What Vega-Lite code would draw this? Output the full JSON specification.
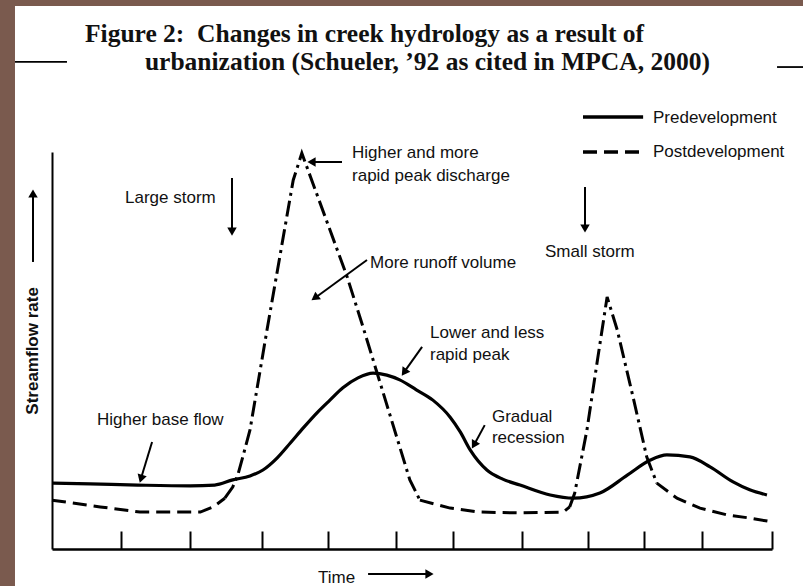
{
  "$schema": "https://vega.github.io/schema/vega-lite/v6.json",
  "width": 720,
  "height": 397,
  "autosize": {"type": "none"},
  "padding": {"left": 52, "top": 152, "right": 31, "bottom": 37},
  "background": "white",
  "config": {"view": {"stroke": null}, "font": "Liberation Sans"},
  "datasets": {
    "frame": [
      {"t": -10, "t2": -5.14, "f": -12, "f2": 150},
      {"t": -10, "t2": 110, "f": 136.8, "f2": 150}
    ],
    "hrules": [
      {"t": -5.14, "t2": 2.08, "f": 122.7, "f2": 122.7},
      {"t": 100.7, "t2": 104.5, "f": 121.4, "f2": 121.4}
    ],
    "pre": [
      {"t": 0, "f": 16.6}, {"t": 5.3, "f": 16.4}, {"t": 11.9, "f": 16.1}, {"t": 19.2, "f": 15.9},
      {"t": 22.6, "f": 16.1}, {"t": 25.1, "f": 17.4}, {"t": 27.5, "f": 18.4}, {"t": 29.3, "f": 19.9},
      {"t": 31.25, "f": 22.9}, {"t": 33.1, "f": 26.7}, {"t": 34.9, "f": 30.5}, {"t": 36.8, "f": 34.3},
      {"t": 38.6, "f": 37.5}, {"t": 40.4, "f": 40.6}, {"t": 42.5, "f": 43.1}, {"t": 44.6, "f": 44.3},
      {"t": 46.5, "f": 43.8}, {"t": 48.3, "f": 42.6}, {"t": 50.6, "f": 40.1}, {"t": 52.9, "f": 37.5},
      {"t": 55.3, "f": 33.2}, {"t": 56.7, "f": 29.5}, {"t": 58.1, "f": 24.9}, {"t": 60.4, "f": 19.9},
      {"t": 62.6, "f": 17.6}, {"t": 65.0, "f": 16.1}, {"t": 69.2, "f": 13.6}, {"t": 72.4, "f": 12.8},
      {"t": 76.1, "f": 14.1}, {"t": 79.9, "f": 18.6}, {"t": 83.1, "f": 22.4}, {"t": 85.4, "f": 23.7},
      {"t": 88.6, "f": 23.2}, {"t": 91.4, "f": 20.7}, {"t": 94.6, "f": 16.9}, {"t": 96.9, "f": 14.9},
      {"t": 99.3, "f": 13.6}
    ],
    "post": [
      {"seg": "a", "part": "base", "t": 0, "f": 12.3}, {"seg": "a", "part": "base", "t": 6.7, "f": 10.6},
      {"seg": "a", "part": "base", "t": 12.2, "f": 9.3}, {"seg": "a", "part": "base", "t": 20.6, "f": 9.3},
      {"seg": "a", "part": "base", "t": 22.4, "f": 10.6}, {"seg": "a", "part": "base", "t": 24.0, "f": 12.8},
      {"seg": "b", "part": "peak", "t": 24.0, "f": 12.8}, {"seg": "b", "part": "peak", "t": 25.1, "f": 15.6},
      {"seg": "b", "part": "peak", "t": 25.8, "f": 18.6}, {"seg": "b", "part": "peak", "t": 26.5, "f": 23.2},
      {"seg": "b", "part": "peak", "t": 27.5, "f": 30.0}, {"seg": "b", "part": "peak", "t": 29.86, "f": 55.16},
      {"seg": "b", "part": "peak", "t": 33.5, "f": 92.9}, {"seg": "b", "part": "peak", "t": 34.7, "f": 99.7},
      {"seg": "b", "part": "peak", "t": 41.0, "f": 68.5}, {"seg": "b", "part": "peak", "t": 43.2, "f": 55.9},
      {"seg": "b", "part": "peak", "t": 48.3, "f": 25.7}, {"seg": "b", "part": "peak", "t": 49.7, "f": 17.4},
      {"seg": "b", "part": "peak", "t": 51.1, "f": 12.3},
      {"seg": "c", "part": "base", "t": 51.1, "f": 12.3}, {"seg": "c", "part": "base", "t": 55.3, "f": 10.3},
      {"seg": "c", "part": "base", "t": 59.4, "f": 9.3}, {"seg": "c", "part": "base", "t": 65.0, "f": 9.1},
      {"seg": "c", "part": "base", "t": 71.0, "f": 9.3}, {"seg": "c", "part": "base", "t": 71.9, "f": 10.6},
      {"seg": "d", "part": "peak", "t": 71.9, "f": 10.6}, {"seg": "d", "part": "peak", "t": 72.6, "f": 14.1},
      {"seg": "d", "part": "peak", "t": 74.3, "f": 30.0}, {"seg": "d", "part": "peak", "t": 75.7, "f": 46.9},
      {"seg": "d", "part": "peak", "t": 77.1, "f": 63.5}, {"seg": "d", "part": "peak", "t": 78.5, "f": 55.2},
      {"seg": "d", "part": "peak", "t": 80.7, "f": 38.3}, {"seg": "d", "part": "peak", "t": 82.6, "f": 23.2},
      {"seg": "d", "part": "peak", "t": 84.0, "f": 16.6},
      {"seg": "e", "part": "base", "t": 84.0, "f": 16.6}, {"seg": "e", "part": "base", "t": 86.8, "f": 12.8},
      {"seg": "e", "part": "base", "t": 90.0, "f": 10.3}, {"seg": "e", "part": "base", "t": 93.75, "f": 8.6},
      {"seg": "e", "part": "base", "t": 96.9, "f": 7.8}, {"seg": "e", "part": "base", "t": 100.1, "f": 6.8}
    ],
    "arrows": [
      {"id": "LS", "t": 25.0, "f": 93.45, "t2": 25.0, "f2": 80.5},
      {"id": "SS", "t": 74.03, "f": 91.18, "t2": 74.03, "f2": 81.0},
      {"id": "PD", "t": 40.28, "f": 97.48, "t2": 36.3, "f2": 97.48},
      {"id": "RV", "t": 43.75, "f": 72.8, "t2": 36.8, "f2": 63.6},
      {"id": "LL", "t": 51.4, "f": 50.9, "t2": 49.0, "f2": 44.8},
      {"id": "GR", "t": 60.1, "f": 31.2, "t2": 58.7, "f2": 26.5},
      {"id": "HB", "t": 13.9, "f": 26.95, "t2": 12.4, "f2": 18.0},
      {"id": "YA", "t": -2.64, "f": 72.3, "t2": -2.64, "f2": 89.0},
      {"id": "TA", "t": 43.9, "f": -6.3, "t2": 52.0, "f2": -6.3}
    ],
    "heads": [
      {"id": "LS", "t": 25.0, "f": 79.97},
      {"id": "SS", "t": 74.03, "f": 80.73},
      {"id": "PD", "t": 36.04, "f": 97.48},
      {"id": "RV", "t": 36.5, "f": 63.25},
      {"id": "LL", "t": 48.9, "f": 44.5},
      {"id": "GR", "t": 58.6, "f": 26.2},
      {"id": "HB", "t": 12.36, "f": 17.7},
      {"id": "YA", "t": -2.64, "f": 89.55},
      {"id": "TA", "t": 52.43, "f": -6.3}
    ],
    "legendlines": [
      {"series": "Predevelopment", "t": 73.75, "t2": 82.1, "f": 108.8, "f2": 108.8},
      {"series": "Postdevelopment", "t": 73.75, "t2": 82.1, "f": 100, "f2": 100}
    ],
    "notes": [
      {"text": "Large storm", "t": 10.14, "f": 88.4},
      {"text": "Higher and more", "t": 41.67, "f": 99.75},
      {"text": "rapid peak discharge", "t": 41.67, "f": 93.95},
      {"text": "More runoff volume", "t": 44.17, "f": 72.04},
      {"text": "Small storm", "t": 68.47, "f": 74.8},
      {"text": "Lower and less", "t": 52.5, "f": 54.4},
      {"text": "rapid peak", "t": 52.5, "f": 48.87},
      {"text": "Gradual", "t": 61.1, "f": 33.25},
      {"text": "recession", "t": 61.1, "f": 27.96},
      {"text": "Higher base flow", "t": 6.25, "f": 32.5},
      {"text": "Predevelopment", "t": 83.47, "f": 108.56},
      {"text": "Postdevelopment", "t": 83.47, "f": 100},
      {"text": "Time", "t": 36.94, "f": -7.2}
    ],
    "ytitle": [
      {"text": "Streamflow rate", "t": -2.64, "f": 49.9}
    ],
    "titles": [
      {"text": "Figure 2:\u00a0 Changes in creek hydrology as a result of", "t": 4.58, "f": 127.7},
      {"text": "urbanization (Schueler, ’92 as cited in MPCA, 2000)", "t": 12.9, "f": 120.65}
    ]
  },
  "encoding": {
    "x": {
      "field": "t", "type": "quantitative",
      "scale": {"domain": [0, 100], "nice": false, "zero": false},
      "axis": {
        "title": null, "labels": false, "grid": false,
        "domainColor": "black", "domainWidth": 2.5,
        "values": [9.6, 19.2, 29.2, 38.3, 47.8, 55.7, 65.3, 74.4, 82.2, 90.3, 100],
        "tickSize": -18, "tickWidth": 2, "tickColor": "black"
      }
    },
    "y": {
      "field": "f", "type": "quantitative",
      "scale": {"domain": [0, 100], "nice": false, "zero": false},
      "axis": {
        "title": null, "labels": false, "grid": false, "ticks": false,
        "domainColor": "black", "domainWidth": 2
      }
    }
  },
  "layer": [
    {
      "data": {"name": "frame"},
      "mark": {"type": "rect", "color": "#7a5a4e"},
      "encoding": {"x2": {"field": "t2"}, "y2": {"field": "f2"}}
    },
    {
      "data": {"name": "hrules"},
      "mark": {"type": "rule", "color": "black", "strokeWidth": 1.8},
      "encoding": {"x2": {"field": "t2"}, "y2": {"field": "f2"}}
    },
    {
      "data": {"name": "pre"},
      "mark": {"type": "line", "color": "black", "strokeWidth": 3.2, "interpolate": "monotone"},
      "encoding": {}
    },
    {
      "data": {"name": "post"},
      "mark": {"type": "line", "color": "black", "strokeWidth": 3, "interpolate": "linear"},
      "encoding": {
        "detail": {"field": "seg"},
        "strokeDash": {
          "field": "part", "type": "nominal",
          "scale": {"domain": ["base", "peak"], "range": [[14, 7], [16, 5, 3, 5]]},
          "legend": null
        }
      }
    },
    {
      "data": {"name": "legendlines"},
      "transform": [{"filter": "datum.series === 'Predevelopment'"}],
      "mark": {"type": "rule", "color": "black", "strokeWidth": 3.5},
      "encoding": {"x2": {"field": "t2"}, "y2": {"field": "f2"}}
    },
    {
      "data": {"name": "legendlines"},
      "transform": [{"filter": "datum.series === 'Postdevelopment'"}],
      "mark": {"type": "rule", "color": "black", "strokeWidth": 3.5, "strokeDash": [14, 7]},
      "encoding": {"x2": {"field": "t2"}, "y2": {"field": "f2"}}
    },
    {
      "data": {"name": "arrows"},
      "mark": {"type": "rule", "color": "black", "strokeWidth": 2},
      "encoding": {"x2": {"field": "t2"}, "y2": {"field": "f2"}}
    },
    {
      "data": {"name": "heads"},
      "transform": [{"filter": "datum.id === 'LS' || datum.id === 'SS'"}],
      "mark": {"type": "point", "shape": "triangle-up", "angle": 180, "filled": true, "color": "black", "opacity": 1, "size": 90},
      "encoding": {}
    },
    {
      "data": {"name": "heads"},
      "transform": [{"filter": "datum.id === 'PD'"}],
      "mark": {"type": "point", "shape": "triangle-up", "angle": 270, "filled": true, "color": "black", "opacity": 1, "size": 90},
      "encoding": {}
    },
    {
      "data": {"name": "heads"},
      "transform": [{"filter": "datum.id === 'RV'"}],
      "mark": {"type": "point", "shape": "triangle-up", "angle": 234, "filled": true, "color": "black", "opacity": 1, "size": 90},
      "encoding": {}
    },
    {
      "data": {"name": "heads"},
      "transform": [{"filter": "datum.id === 'LL'"}],
      "mark": {"type": "point", "shape": "triangle-up", "angle": 215, "filled": true, "color": "black", "opacity": 1, "size": 90},
      "encoding": {}
    },
    {
      "data": {"name": "heads"},
      "transform": [{"filter": "datum.id === 'GR'"}],
      "mark": {"type": "point", "shape": "triangle-up", "angle": 210, "filled": true, "color": "black", "opacity": 1, "size": 90},
      "encoding": {}
    },
    {
      "data": {"name": "heads"},
      "transform": [{"filter": "datum.id === 'HB'"}],
      "mark": {"type": "point", "shape": "triangle-up", "angle": 197, "filled": true, "color": "black", "opacity": 1, "size": 90},
      "encoding": {}
    },
    {
      "data": {"name": "heads"},
      "transform": [{"filter": "datum.id === 'YA'"}],
      "mark": {"type": "point", "shape": "triangle-up", "angle": 0, "filled": true, "color": "black", "opacity": 1, "size": 90},
      "encoding": {}
    },
    {
      "data": {"name": "heads"},
      "transform": [{"filter": "datum.id === 'TA'"}],
      "mark": {"type": "point", "shape": "triangle-up", "angle": 90, "filled": true, "color": "black", "opacity": 1, "size": 90},
      "encoding": {}
    },
    {
      "data": {"name": "notes"},
      "mark": {"type": "text", "align": "left", "baseline": "middle", "font": "Liberation Sans", "fontSize": 17, "color": "#111"},
      "encoding": {"text": {"field": "text"}}
    },
    {
      "data": {"name": "ytitle"},
      "mark": {"type": "text", "align": "center", "baseline": "middle", "angle": 270, "font": "Liberation Sans", "fontSize": 17, "fontWeight": "bold", "color": "#111"},
      "encoding": {"text": {"field": "text"}}
    },
    {
      "data": {"name": "titles"},
      "mark": {"type": "text", "align": "left", "baseline": "alphabetic", "font": "Liberation Serif", "fontSize": 25.5, "fontWeight": "bold", "color": "#111"},
      "encoding": {"text": {"field": "text"}}
    }
  ]
}
